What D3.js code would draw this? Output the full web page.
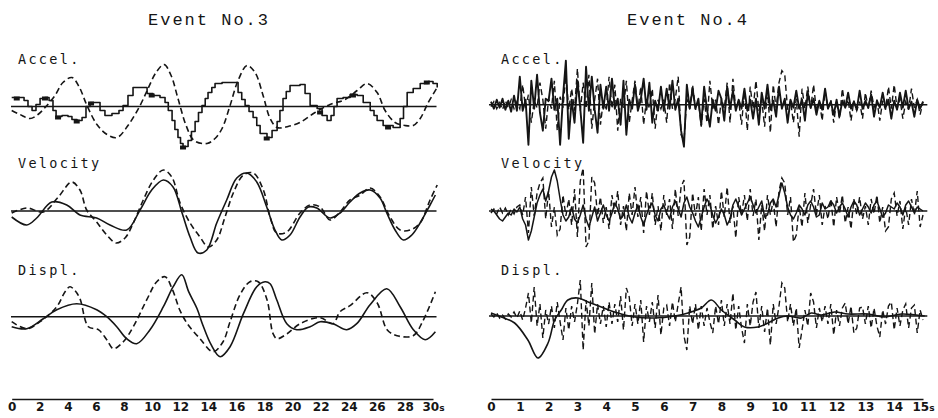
<!DOCTYPE html>
<html><head><meta charset="utf-8">
<script src="https://cdn.jsdelivr.net/npm/d3@7"></script>
<style>body{margin:0;background:#fff}svg{display:block}</style>
</head><body>
<script>
// ---------------- DATA ----------------
const titles = ["Event No.3", "Event No.4"];
const rowLabels = ["Accel.", "Velocity", "Displ."];
const ticks3 = [0,2,4,6,8,10,12,14,16,18,20,22,24,26,28,30];
const ticks4 = [0,1,2,3,4,5,6,7,8,9,10,11,12,13,14,15];
const timeUnit = "s";

// Event No.3 : [time s, amplitude]
const acc3Step = [[0,9],[0.59,9],[0.88,6],[1.16,0],[1.45,-4],[1.73,2],[2.02,8],[2.37,9],[2.66,6],[2.94,-4],[3.16,-10],[3.58,-9],[4.01,-10],[4.29,-13],[4.65,-14],[5.01,-11],[5.29,0],[5.58,4],[6.0,4],[6.29,-4],[6.64,-9],[7.14,-7],[7.64,-4],[7.93,1],[8.28,11],[8.64,19],[9.2,19],[9.64,13],[10.06,11],[10.56,9],[10.92,4],[11.15,-4],[11.42,-14],[11.62,-23],[11.84,-31],[12.02,-37],[12.2,-40],[12.56,-34],[12.8,-25],[13.06,-15],[13.3,-6],[13.55,1],[13.78,8],[13.98,14],[14.25,19],[14.48,23],[14.98,24],[15.76,24],[16.12,14],[16.38,7],[16.62,1],[16.9,-5],[17.19,-11],[17.45,-19],[17.69,-27],[18.18,-31],[18.54,-24],[18.9,-15],[19.1,-4],[19.32,8],[19.55,15],[19.82,21],[20.53,22],[20.89,13],[21.25,1],[21.75,-2],[22.1,-9],[22.46,-14],[22.74,-9],[22.95,0],[23.17,8],[23.6,9],[24.1,12],[24.6,11],[25.03,4],[25.53,-4],[25.8,-9],[26.02,-14],[26.45,-19],[27.16,-21],[27.66,-12],[27.9,0],[28.16,14],[28.59,18],[29.09,23],[29.66,25],[30.0,23],[30.3,19]];
const acc3Blobs = [[0.36,9],[2.37,9],[3.3,-10],[4.63,-14],[5.65,4],[9.97,12],[12.2,-40],[18.16,-31],[21.96,-5],[24.3,12],[26.8,-20],[29.56,25]];
const acc3Dash = [[0,-4],[0.59,-8],[1.3,-12],[1.87,-8],[2.44,0],[3.08,11],[3.65,24],[4.29,29],[4.79,20],[5.36,1],[6.07,-18],[6.79,-28],[7.5,-31],[8.28,-19],[9.14,1],[9.71,18],[10.28,34],[10.85,42],[11.35,31],[11.84,8],[12.42,-19],[12.98,-34],[13.91,-37],[14.48,-32],[14.98,-22],[15.55,1],[16.12,26],[16.76,41],[17.33,34],[17.9,11],[18.4,-12],[18.9,-21],[19.68,-20],[20.53,-16],[21.6,-6],[22.67,2],[23.74,7],[24.6,16],[25.31,23],[26.02,14],[26.59,-4],[27.3,-16],[28.0,-19],[28.59,-19],[29.09,-12],[29.66,4],[30.3,19]];
const vel3Solid = [[0,-6],[1.07,-14],[1.78,-7],[2.85,9],[3.92,6],[4.86,-4],[6.05,-7],[7.0,-14],[8.19,-19],[9.14,1],[9.97,21],[10.8,31],[11.49,24],[12.11,-1],[12.7,-26],[13.27,-42],[13.89,-39],[14.6,-12],[15.31,11],[16.03,33],[16.74,38],[17.45,29],[18.16,4],[18.75,-19],[19.23,-29],[19.82,-24],[20.53,-6],[21.13,4],[21.72,3],[22.67,-7],[23.38,-2],[24.09,9],[24.81,18],[25.52,21],[26.23,13],[26.71,-2],[27.3,-19],[27.89,-29],[28.49,-24],[29.08,-12],[29.79,6],[30.17,16]];
const vel3Dash = [[0,-2],[1.07,3],[2.25,-1],[3.32,14],[4.27,29],[4.86,21],[5.34,1],[6.05,-11],[6.77,-24],[7.43,-32],[8.07,-27],[8.66,-12],[9.37,11],[10.09,31],[10.8,41],[11.4,34],[11.99,8],[12.7,-12],[13.41,-26],[14.0,-36],[14.6,-29],[15.19,-6],[15.78,18],[16.5,36],[17.21,38],[17.92,21],[18.4,-6],[18.87,-22],[19.59,-21],[20.53,-2],[21.25,6],[21.96,4],[22.67,-9],[23.38,-1],[24.09,11],[24.81,16],[25.52,23],[26.23,14],[26.94,-6],[27.66,-19],[28.37,-19],[29.08,-12],[29.79,11],[30.3,26]];
const dis3Solid = [[0,-10],[1.07,-12],[2.25,-2],[3.21,7],[4.63,13],[6.05,7],[6.77,0],[7.48,-10],[8.19,-22],[8.9,-27],[9.85,-13],[10.8,10],[11.5,30],[12.11,42],[12.6,25],[13.2,8],[13.6,-8],[14.2,-28],[14.84,-40],[15.55,-30],[16.5,3],[17.45,30],[18.04,35],[18.4,33],[18.87,17],[19.59,-7],[20.3,-13],[21.25,-10],[21.96,-5],[22.88,-7],[23.86,-13],[24.57,-7],[25.52,12],[26.71,28],[27.66,10],[28.6,-13],[29.44,-23],[30.17,-15]];
const dis3Dash = [[0,-5],[1.07,-12],[2.02,-5],[3.21,10],[3.8,25],[4.15,30],[4.51,26],[4.86,18],[5.46,-10],[6.17,-13],[6.77,-23],[7.24,-32],[7.95,-25],[8.66,-10],[9.62,17],[10.33,35],[10.92,40],[11.42,28],[11.99,6],[12.56,-8],[13.41,-22],[14.34,-35],[15.05,-25],[15.55,-5],[16.26,22],[16.97,35],[17.55,35],[18.18,17],[18.61,-17],[18.9,-22],[19.61,-17],[20.53,-7],[21.96,-1],[22.88,-7],[23.38,5],[24.09,11],[25.3,24],[26.02,14],[26.73,-13],[27.44,-19],[28.59,-19],[29.29,-4],[30.17,25]];

// Event No.4 : samples every 0.1 s
const sampleStep4 = 0.1;
const acc4Solid = [3,-4,5,-3,6,-5,4,-7,9,-6, 28,-6,5,-40,24,-4,30,-8,-26,6, 4,26,-5,6,-40,8,44,-34,5,-18, 24,-4,-38,38,-6,28,-5,-28,20,-4, 18,-6,26,-4,6,-20,24,-30,5,-4, 20,-6,5,26,-5,22,-18,4,-6,18, -6,16,-4,24,-5,6,-26,-42,20,-4, 16,-4,6,-20,18,-5,-22,5,-6,14, 6,-16,18,-4,14,-6,5,-4,16,-6, 5,-14,6,-20,12,-4,20,-5,4,-12, 18,-4,6,-18,5,-3,14,-4,5,-16, 12,-3,6,-10,4,-5,16,-4,3,-10, 5,-12,4,-3,12,-4,3,-5,14,-4, 4,-3,10,-12,4,-3,12,-3,5,-14, 4,-5,12,-3,14,-4,3,-12,5,-4, 3];
const acc4Dash = [-2,3,-4,2,-5,4,-3,5,-4,3, -4,20,-3,10,-18,4,-3,22,5,-24, 6,-4,24,-26,8,-3,30,-5,16,-6, 36,-6,22,-4,30,-24,5,26,-20,4, -6,28,-4,20,-26,6,-3,24,-18,4, 24,-5,18,-20,6,-4,16,-24,5,-4, 5,-18,22,-4,6,28,-30,-36,6,-4, 20,-5,4,-22,6,-18,24,-4,5,-20, 6,-4,22,-18,26,-5,4,-20,14,-26, 18,-4,24,-6,5,-22,16,-28,20,-4, 22,34,30,-5,4,-18,6,-32,16,-4, 18,-4,20,-6,4,-16,14,-4,5,-18, 4,-14,16,-3,5,-16,4,-6,3,-14, 12,-4,14,-3,5,-16,4,-5,18,-4, 20,-4,6,-14,3,-5,16,-3,5,-10, 3];
const vel4Solid = [2,0,-4,-8,-10,-6,-2,-4,2,-1, 4,-8,-14,-29,-20,-6,8,16,22,10, 20,34,41,30,12,-4,-10,-6,4,-8, -12,-4,6,-8,-16,-6,4,-10,-2,6, -4,-10,-2,8,2,-8,-4,6,-6,-12, -2,6,-6,-14,-4,4,8,-4,-10,2, 6,-2,-8,4,10,2,-6,8,14,4, -2,-10,-16,-6,4,12,6,-4,-12,-6, 2,-4,-14,-8,6,12,4,-4,2,8, 14,6,-2,4,10,-6,-4,8,12,4, 16,28,18,4,-4,-8,-2,6,2,-4, 6,10,4,-6,-4,8,2,4,10,6, -2,4,8,2,-6,4,10,6,-4,2, 8,4,-2,6,10,2,-6,-2,6,4, 2,8,4,-4,6,10,4,-2,4,2, 0];
const vel4Dash = [-2,2,-3,4,-2,3,-4,2,-3,4, 6,-4,14,-22,24,-5,18,28,33,-8, 20,-16,4,-24,-18,16,-5,12,-14,22, -26,30,43,-36,-30,34,28,-5,14,-12, 4,-18,16,-3,20,-14,5,-20,18,-4, 24,-6,14,-22,20,-4,18,-14,5,-20, 16,-4,12,-18,22,-5,24,31,-34,-26, 18,-5,14,-20,22,-4,16,-18,5,-14, 20,-6,24,-12,5,-27,14,-4,16,-10, 22,-5,12,-29,6,-20,16,-4,10,-16, 20,33,28,-4,14,-31,-24,5,-16,18, -12,6,22,-4,16,-14,5,-8,12,-16, 14,-3,16,-12,4,-18,12,-4,14,-8, 5,-14,12,-3,16,-12,4,-20,-16,12, 18,-5,10,-18,4,-14,12,-4,20,-16, -4];
const dis4Solid = [[0,3],[0.36,-1],[0.82,-7],[1.28,-24],[1.63,-42],[1.98,-27],[2.21,-4],[2.44,6],[2.67,16],[3.02,18],[3.37,14],[3.83,9],[4.29,4],[4.99,-1],[5.68,-2],[6.38,0],[6.84,3],[7.3,8],[7.65,16],[8.0,6],[8.46,-4],[8.8,-11],[9.27,-11],[9.62,-7],[9.97,-2],[10.3,0],[10.78,-2],[11.12,3],[11.47,1],[11.93,4],[12.4,2],[13.09,2],[13.67,-1],[14.25,2],[15.06,0]];
const dis4Dash = [2,-1,3,-2,1,-3,2,-1,4,-2, 5,-4,8,23,-7,29,-10,12,-22,6, -8,10,-12,14,-6,-24,8,-14,10,-6, 12,36,-34,16,-10,33,-18,12,-8,10, -11,14,-8,12,-6,20,-14,28,19,-10, 12,-8,16,-26,10,-6,14,-12,21,-19, 8,11,-10,14,-6,12,29,-20,-34,10, -8,12,-14,10,-10,8,-6,-17,10,-8, 16,-10,12,-8,23,-14,10,-12,-27,12, -10,14,24,-12,10,-16,8,-29,12,-8, 10,33,28,-6,12,-10,8,-32,-14,6, -10,23,14,-12,8,-6,10,-8,12,-19, 6,-10,8,13,-8,10,-17,-12,8,9, -8,10,-12,8,-10,-21,6,-8,10,14, -14,8,-10,6,12,-12,8,11,-17,6, -4];

// ---------------- DRAW ----------------
const W = 938, H = 418;
const svg = d3.select("body").append("svg").attr("width", W).attr("height", H);
const ink = "#151515";
const toPairs = arr => arr.map((v, i) => [i * sampleStep4, v]);

const panels = [
  { title: titles[0], titleX: 209, x: d3.scaleLinear().domain([0, 30]).range([11.7, 433]),
    span: [-0.05, 30.25], ticks: ticks3, labelX: 18, bases: [106.5, 211, 316.7],
    rows: [
      { solid: acc3Step, solidCurve: d3.curveStepAfter, dash: acc3Dash, blobs: acc3Blobs },
      { solid: vel3Solid, solidCurve: d3.curveCatmullRom, dash: vel3Dash },
      { solid: dis3Solid, solidCurve: d3.curveCatmullRom, dash: dis3Dash }
    ], dashCurve: d3.curveCatmullRom, dashWidth: 1.6, solidWidth: 1.6 },
  { title: titles[1], titleX: 688, x: d3.scaleLinear().domain([0, 15]).range([491, 923]),
    span: [-0.07, 15.15], ticks: ticks4, labelX: 501, bases: [104.7, 211, 316],
    rows: [
      { solid: toPairs(acc4Solid), solidCurve: d3.curveLinear, dash: toPairs(acc4Dash), solidW: 1.9 },
      { solid: toPairs(vel4Solid), solidCurve: d3.curveLinear, dash: toPairs(vel4Dash), solidW: 1.5 },
      { solid: dis4Solid, solidCurve: d3.curveCatmullRom, dash: toPairs(dis4Dash), solidW: 1.6 }
    ], dashCurve: d3.curveLinear, dashWidth: 1.4, solidWidth: 1.6 }
];
const labelBase = [63.5, 168, 274.5];

panels.forEach(p => {
  const g = svg.append("g");
  g.append("text").attr("x", p.titleX).attr("y", 25).attr("text-anchor", "middle")
    .attr("font-family", "Liberation Mono, DejaVu Sans Mono, monospace")
    .attr("font-size", 17).attr("letter-spacing", 2).attr("fill", ink).text(p.title);

  p.rows.forEach((r, i) => {
    const base = p.bases[i];
    const y = d3.scaleLinear().domain([-50, 50]).range([base + 50, base - 50]);
    g.append("text").attr("x", p.labelX).attr("y", labelBase[i])
      .attr("font-family", "DejaVu Sans Mono, monospace").attr("font-size", 13.5)
      .attr("letter-spacing", 2.3).attr("fill", ink).text(rowLabels[i]);
    g.append("line").attr("x1", p.x(p.span[0])).attr("x2", p.x(p.span[1]))
      .attr("y1", y(0)).attr("y2", y(0)).attr("stroke", ink).attr("stroke-width", 1.5);
    const ls = d3.line().x(d => p.x(d[0])).y(d => y(d[1])).curve(r.solidCurve);
    const ld = d3.line().x(d => p.x(d[0])).y(d => y(d[1])).curve(p.dashCurve);
    g.append("path").attr("d", ld(r.dash)).attr("fill", "none").attr("stroke", ink)
      .attr("stroke-width", p.dashWidth).attr("stroke-dasharray", "6,3.5");
    g.append("path").attr("d", ls(r.solid)).attr("fill", "none").attr("stroke", ink)
      .attr("stroke-width", r.solidW || p.solidWidth).attr("stroke-linejoin", "round");
    if (r.blobs) {
      g.selectAll(null).data(r.blobs).enter().append("rect")
        .attr("x", d => p.x(d[0]) - 3).attr("y", d => y(d[1]) - 1)
        .attr("width", 6).attr("height", 4).attr("fill", ink);
    }
  });

  const axis = d3.axisBottom(p.x).tickValues(p.ticks).tickSize(0).tickSizeOuter(0).tickPadding(3)
    .tickFormat(d3.format("d"));
  const ag = g.append("g").attr("transform", "translate(0,399)").call(axis);
  ag.select(".domain").attr("stroke", ink).attr("stroke-width", 1.6);
  ag.selectAll("text").attr("font-family", "DejaVu Sans, sans-serif").attr("font-weight", "bold")
    .attr("font-size", 12).attr("fill", ink);
  const last = ag.selectAll(".tick text").filter((d, i, n) => i === n.length - 1);
  last.append("tspan").attr("font-size", 9).text(timeUnit);
});
</script>
</body></html>
